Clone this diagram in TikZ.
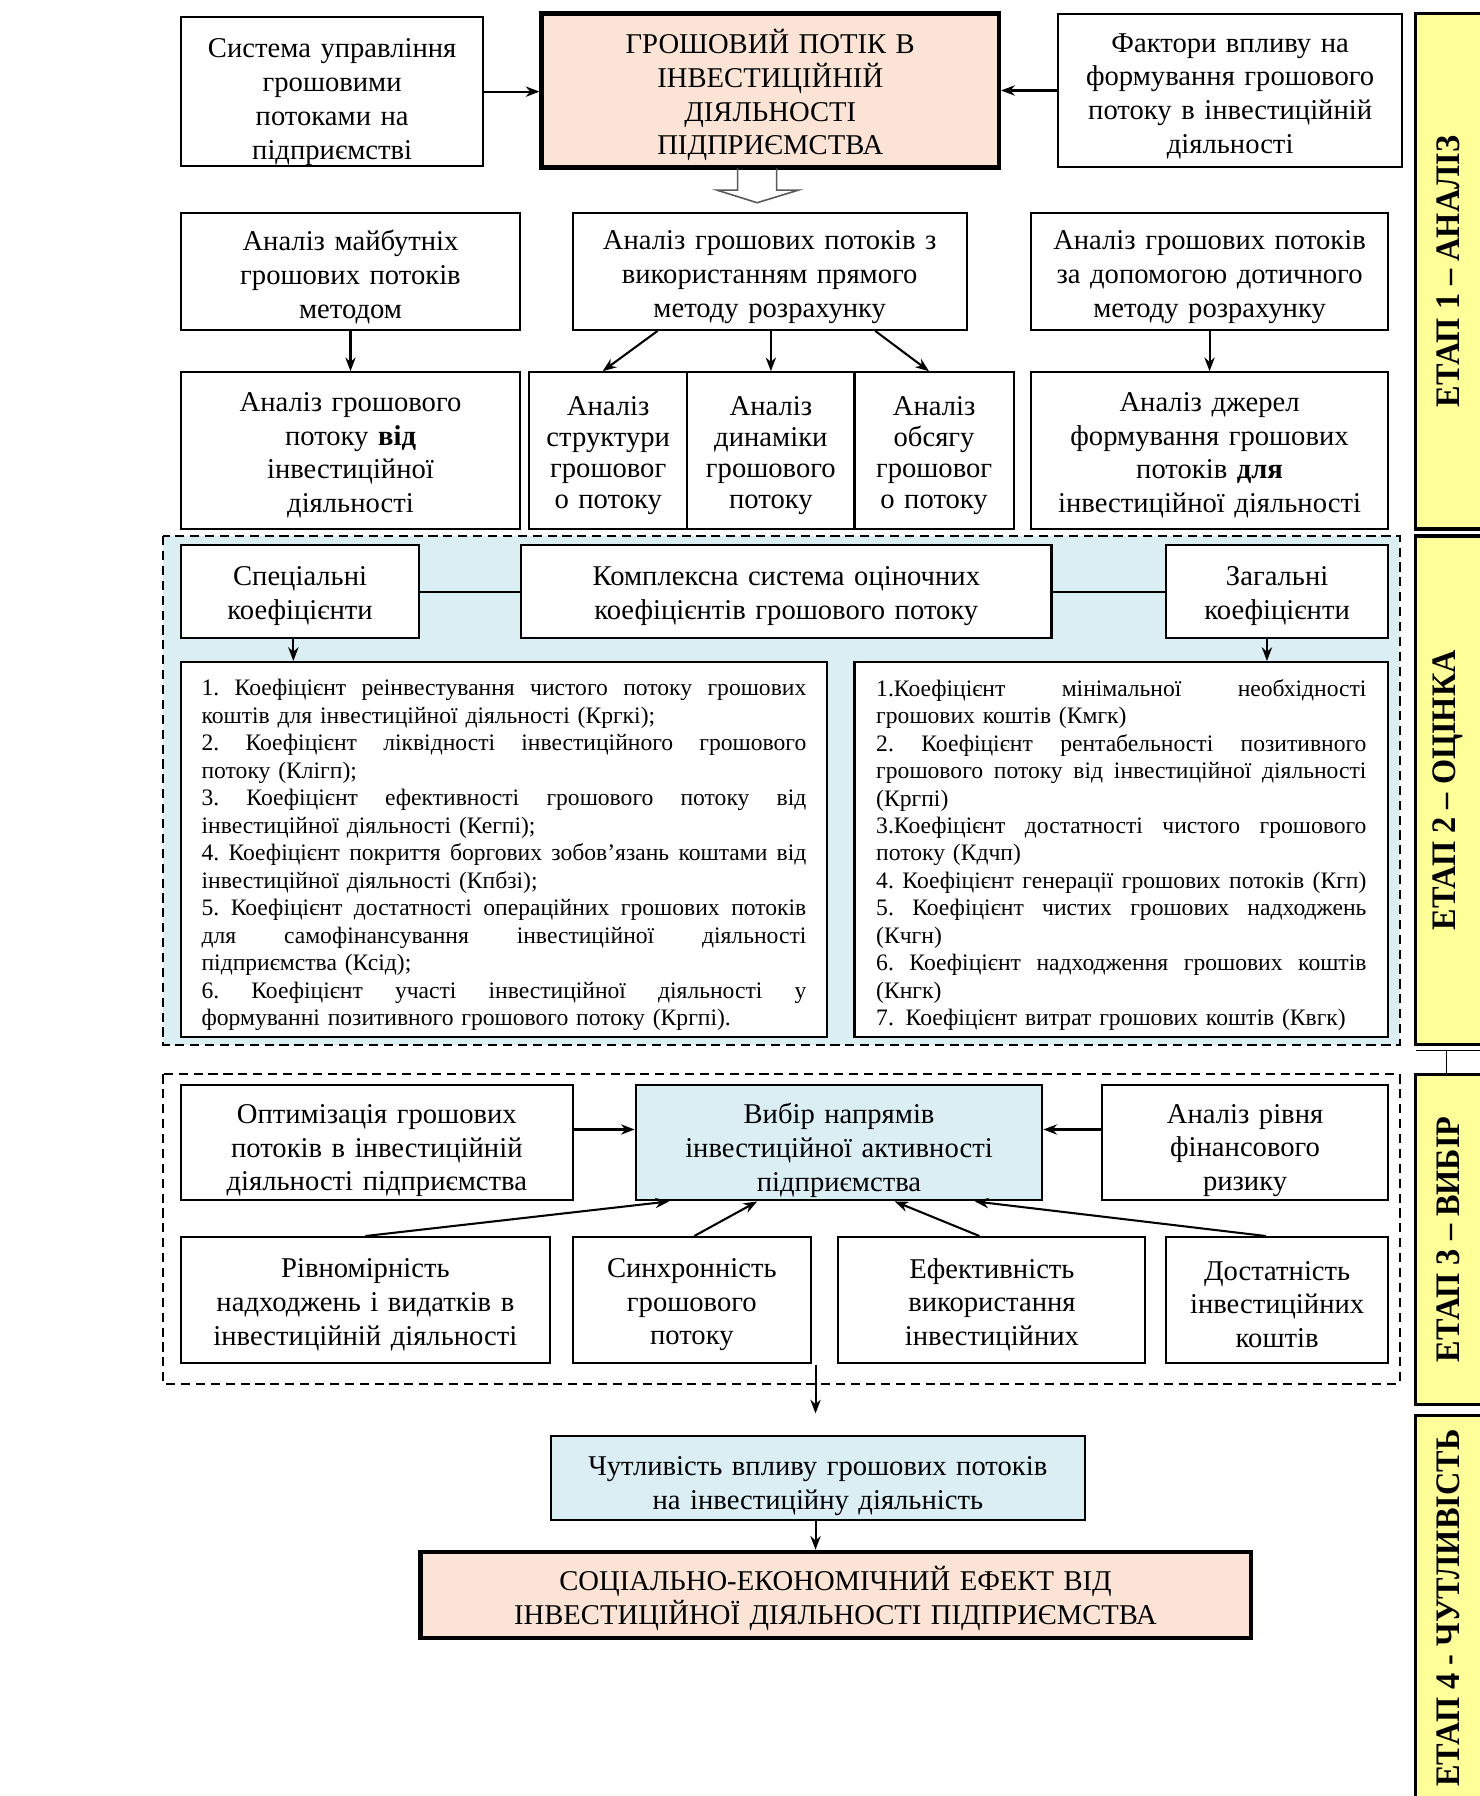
\documentclass[tikz,border=0pt]{standalone}
\usepackage{fontspec}
\usepackage{graphicx}
\setmainfont{Liberation Serif}
\usetikzlibrary{arrows.meta,calc}
\definecolor{pinkf}{RGB}{251,228,214}
\definecolor{bluef}{RGB}{219,238,243}
\definecolor{yel}{RGB}{255,255,153}
% name, style, x1, y1, x2, y2, text shift (px), text
\newcommand\mkbox[8]{%
  \pgfmathsetmacro\bw{(#5-#3)*0.5}%
  \pgfmathsetmacro\bh{(#6-#4)*0.5}%
  \pgfmathsetmacro\tw{\bw-6}%
  \node[#2,minimum width=\bw pt,minimum height=\bh pt] (#1) at ({(#3+#5)/2},{(#4+#6)/2}) {};
  \node[#2,draw=none,fill=none,text width=\tw pt] (#1t) at ($(#1.center)+(0,#7)$) {#8};}
\newcommand\jl[1]{\makebox[264pt][s]{\frenchspacing\spaceskip=2.6pt plus 1fil minus 0.3pt\relax #1}}
\newcommand\jr[1]{\makebox[214pt][s]{\frenchspacing\spaceskip=2.6pt plus 1fil minus 0.3pt\relax #1}}
\newcommand\stlabel[1]{\scalebox{0.94}[1]{\fontsize{15}{17}\selectfont\bfseries #1}}
\begin{document}
\begin{tikzpicture}[x=0.5pt,y=-0.5pt,
  box/.style={draw,line width=0.9pt,fill=white,inner sep=0pt,align=center,font=\fontsize{12.5}{14.75}\selectfont},
  smallbox/.style={box,font=\fontsize{12.5}{13.5}\selectfont},
  bigbox/.style={box,line width=2pt,fill=pinkf},
  bluebox/.style={box,fill=bluef},
  listbox/.style={draw,line width=0.9pt,fill=white,inner sep=0pt},
  listtext/.style={inner sep=0pt,align=left,font=\fontsize{10.3}{12}\selectfont},
  arr/.style={-{Stealth[length=6pt,width=4.5pt]},line width=0.9pt},
  ln/.style={line width=0.9pt},
  stagebox/.style={draw,line width=1.5pt,fill=yel},
  stagetxt/.style={rotate=90,inner sep=0pt},
  region/.style={dash pattern=on 4pt off 2.5pt,line width=0.8pt}]
\useasboundingbox (0,0) rectangle (1292,1568);
\fill[white] (0,0) rectangle (1292,1568);

% ---------- stage column ----------
\draw[stagebox] (1236,12) rectangle (1300,462);
\draw[stagebox] (1236,468) rectangle (1300,912);
\draw[stagebox] (1236,938) rectangle (1300,1226);
\draw[stagebox] (1236,1236) rectangle (1300,1600);
\draw[line width=0.6pt] (1236,917) -- (1292,917) (1263,917) -- (1263,938);
\node[stagetxt] (t1) at (1264,237) {\stlabel{ЕТАП 1 – АНАЛІЗ}};
\node[stagetxt] (t2) at (1264,690) {\stlabel{ЕТАП 2 – ОЦІНКА}};
\node[stagetxt] (t3) at (1264,1082) {\stlabel{ЕТАП 3 – ВИБІР}};
\node[stagetxt] (t4) at (1264,1404) {\stlabel{ЕТАП 4 - ЧУТЛИВІСТЬ}};

% ---------- stage 1 ----------
\mkbox{s1}{box}{158}{15}{422}{145}{9}{Система управління\\грошовими\\потоками на\\підприємстві}
\mkbox{m}{bigbox}{473}{12}{872}{146}{4}{ГРОШОВИЙ ПОТІК В\\ІНВЕСТИЦІЙНІЙ\\ДІЯЛЬНОСТІ\\ПІДПРИЄМСТВА}
\mkbox{f}{box}{924}{12}{1224}{146}{5}{Фактори впливу на\\формування грошового\\потоку в інвестиційній\\діяльності}
\draw[gray!70!black,line width=0.7pt] (644,147) -- (644,166) -- (626,166) -- (661,177) -- (697,166) -- (678,166) -- (678,147);

\mkbox{a1}{box}{158}{186}{454}{288}{5}{Аналіз майбутніх\\грошових потоків\\методом}
\mkbox{a2}{box}{500}{186}{844}{288}{5}{Аналіз грошових потоків з\\використанням прямого\\методу розрахунку}
\mkbox{a3}{box}{900}{186}{1212}{288}{5}{Аналіз грошових потоків\\за допомогою дотичного\\методу розрахунку}

\mkbox{b1}{box}{158}{325}{454}{462}{4}{Аналіз грошового\\потоку \textbf{від}\\інвестиційної\\діяльності}
\mkbox{b2}{smallbox}{462}{325}{600}{462}{4}{Аналіз\\структури\\грошовог\\о потоку}
\mkbox{b3}{smallbox}{600}{325}{746}{462}{4}{Аналіз\\динаміки\\грошового\\потоку}
\mkbox{b4}{smallbox}{746}{325}{885}{462}{4}{Аналіз\\обсягу\\грошовог\\о потоку}
\mkbox{b5}{box}{900}{325}{1212}{462}{4}{Аналіз джерел\\формування грошових\\потоків \textbf{для}\\інвестиційної діяльності}

\draw[arr] (s1.east) -- (s1.east -| m.west);
\draw[arr] (f.west) -- (f.west -| m.east);
\draw[arr] (a1.south) -- (b1.north);
\coordinate (a2s1) at ($(a2.south west)+(75,0)$);
\coordinate (b2n) at ($(b2.north west)+(65,0)$);
\coordinate (a2s3) at ($(a2.south west)+(265,0)$);
\coordinate (b4n) at ($(b4.north west)+(66,0)$);
\draw[arr] (a2s1) -- (b2n);
\draw[arr] (a2.south -| b3.north) -- (b3.north);
\draw[arr] (a2s3) -- (b4n);
\draw[arr] (a3.south) -- (b5.north);

% ---------- stage 2 ----------
\draw[region,fill=bluef] (142,468) rectangle (1222,912);
\mkbox{c1}{box}{158}{476}{366}{557}{4}{Спеціальні\\коефіцієнти}
\mkbox{c2}{box}{455}{476}{918}{557}{4}{Комплексна система оціночних\\коефіцієнтів грошового потоку}
\mkbox{c3}{box}{1018}{476}{1212}{557}{4}{Загальні\\коефіцієнти}
\draw[ln] (c1.east) -- (c2.west);
\draw[ln] (c2.east) -- (c3.west);

\node[listbox,minimum width=282pt,minimum height=163.5pt] (l1) at (440,741.5) {};
\node[listtext,text width=264pt] (l1t) at ($(l1.center)+(0,5)$) {%
\jl{1. Коефіцієнт реінвестування чистого потоку грошових}\\
коштів для інвестиційної діяльності (Кргкі);\\
\jl{2. Коефіцієнт ліквідності інвестиційного грошового}\\
потоку (Клігп);\\
\jl{3. Коефіцієнт ефективності грошового потоку від}\\
інвестиційної діяльності (Кегпі);\\
\jl{4. Коефіцієнт покриття боргових зобов’язань коштами від}\\
інвестиційної діяльності (Кпбзі);\\
\jl{5. Коефіцієнт достатності операційних грошових потоків}\\
\jl{для самофінансування інвестиційної діяльності}\\
підприємства (Ксід);\\
\jl{6. Коефіцієнт участі інвестиційної діяльності у}\\
формуванні позитивного грошового потоку (Кргпі).};

\node[listbox,minimum width=233pt,minimum height=163.5pt] (l2) at (979,741.5) {};
\node[listtext,text width=214pt] (l2t) at ($(l2.center)+(0,5)$) {%
\jr{1.Коефіцієнт мінімальної необхідності}\\
грошових коштів (Кмгк)\\
\jr{2. Коефіцієнт рентабельності позитивного}\\
\jr{грошового потоку від інвестиційної діяльності}\\
(Кргпі)\\
\jr{3.Коефіцієнт достатності чистого грошового}\\
потоку (Кдчп)\\
\jr{4. Коефіцієнт генерації грошових потоків (Кгп)}\\
\jr{5. Коефіцієнт чистих грошових надходжень}\\
(Кчгн)\\
\jr{6. Коефіцієнт надходження грошових коштів}\\
(Кнгк)\\
7. Коефіцієнт витрат грошових коштів (Квгк)};

\coordinate (c1s) at ($(c1.south west)+(99,0)$);
\coordinate (c3s) at ($(c3.south west)+(89,0)$);
\draw[arr] (c1s) -- (c1s |- l1.north);
\draw[arr] (c3s) -- (c3s |- l2.north);

% ---------- stage 3 ----------
\draw[region] (142,938) rectangle (1222,1208);
\mkbox{d1}{box}{158}{947}{500}{1048}{7}{Оптимізація грошових\\потоків в інвестиційній\\діяльності підприємства}
\mkbox{d2}{bluebox}{555}{947}{910}{1048}{7}{Вибір напрямів\\інвестиційної активності\\підприємства}
\mkbox{d3}{box}{962}{947}{1212}{1048}{7}{Аналіз рівня\\фінансового\\ризику}
\mkbox{e1}{box}{158}{1080}{480}{1190}{4}{Рівномірність\\надходжень і видатків в\\інвестиційній діяльності}
\mkbox{e2}{box}{500}{1080}{708}{1190}{4}{Синхронність\\грошового\\потоку}
\mkbox{e3}{box}{732}{1080}{1000}{1190}{4}{Ефективність\\використання\\інвестиційних}
\mkbox{e4}{box}{1018}{1080}{1212}{1190}{4}{Достатність\\інвестиційних\\коштів}

\coordinate (d1e) at ($(d1.north east)+(0,40)$);
\coordinate (d3w) at ($(d3.north west)+(0,40)$);
\draw[arr] (d1e) -- (d1e -| d2.west);
\draw[arr] (d3w) -- (d3w -| d2.east);
\coordinate (e1n) at ($(e1.north west)+(162,0)$);
\coordinate (e2n) at ($(e2.north west)+(107,0)$);
\coordinate (e3n) at ($(e3.north west)+(124,0)$);
\coordinate (e4n) at ($(e4.north west)+(88,0)$);
\coordinate (d2a) at ($(d2.south west)+(30,0)$);
\coordinate (d2b) at ($(d2.south west)+(107,0)$);
\coordinate (d2c) at ($(d2.south west)+(227,0)$);
\coordinate (d2d) at ($(d2.south west)+(297,0)$);
\draw[arr] (e1n) -- (d2a);
\draw[arr] (e2n) -- (d2b);
\draw[arr] (e3n) -- (d2c);
\draw[arr] (e4n) -- (d2d);

% ---------- stage 4 ----------
\mkbox{g1}{bluebox}{481}{1254}{947}{1327}{7}{Чутливість впливу грошових потоків\\на інвестиційну діяльність}
\mkbox{g2}{bigbox}{367}{1355}{1092}{1430}{3}{СОЦІАЛЬНО-ЕКОНОМІЧНИЙ ЕФЕКТ ВІД\\ІНВЕСТИЦІЙНОЇ ДІЯЛЬНОСТІ ПІДПРИЄМСТВА}
\coordinate (r3b) at (712,1192);
\coordinate (r3t) at (712,1234);
\draw[arr] (r3b) -- (r3t);
\draw[arr] (g1.south -| r3b) -- (g2.north -| r3b);
\end{tikzpicture}
\end{document}
